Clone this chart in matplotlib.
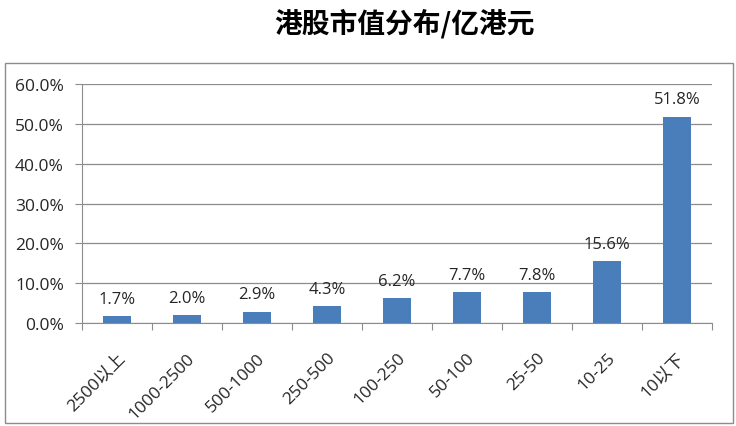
import matplotlib.pyplot as plt
from matplotlib.patches import Rectangle

plt.rcParams['font.family'] = ['Open Sans', 'Noto Sans CJK SC', 'DejaVu Sans']

# data
categories = ['2500以上', '1000-2500', '500-1000', '250-500', '100-250',
              '50-100', '25-50', '10-25', '10以下']
share = [1.7, 2.0, 2.9, 4.3, 6.2, 7.7, 7.8, 15.6, 51.8]
yticks = [0, 10, 20, 30, 40, 50, 60]

fig = plt.figure(figsize=(7.36, 4.27), dpi=100)
fig.patch.set_facecolor('white')

# outer chart frame
fig.patches.append(Rectangle((5 / 736, 3 / 427), 728 / 736, 360 / 427,
                             transform=fig.transFigure, fill=False,
                             edgecolor='#8c8c8c', linewidth=1.0))

fig.text(0.549, 0.945, '港股市值分布/亿港元', ha='center', va='center',
         fontsize=20, fontweight='bold', family=['Noto Sans CJK SC'])

ax = fig.add_axes([0.1114, 0.241, 0.856, 0.56])
x = range(len(categories))
bars = ax.bar(x, share, width=0.4, color='#4a7ebb')

for xi, v in zip(x, share):
    ax.text(xi, v + 2.3, f'{v:.1f}%', ha='center', va='bottom',
            fontsize=12, color='#262626')

ax.set_xlim(-0.5, len(categories) - 0.5)
ax.set_ylim(0, 60)
ax.set_yticks(yticks)
ax.set_yticklabels([f'{t:.1f}%' for t in yticks], fontsize=12.5, color='#262626')
ax.yaxis.grid(True, color='#8c8c8c', linewidth=0.9)
ax.set_axisbelow(True)

ax.set_xticks([i + 0.5 for i in range(-1, len(categories))], minor=False)
ax.set_xticklabels([])
ax.tick_params(axis='x', length=5, color='#8c8c8c', direction='out')
ax.tick_params(axis='y', length=5, color='#8c8c8c', pad=8)
ax.set_xticks(list(x), minor=True)
ax.set_xticklabels(categories, minor=True, rotation=45, ha='right',
                   rotation_mode='anchor', fontsize=12.5, color='#262626')
ax.tick_params(axis='x', which='minor', length=0, pad=19)

for s in ['top', 'right']:
    ax.spines[s].set_visible(False)
ax.spines['left'].set_color('#8c8c8c')
ax.spines['bottom'].set_color('#8c8c8c')

fig.savefig('out.png', dpi=100)
